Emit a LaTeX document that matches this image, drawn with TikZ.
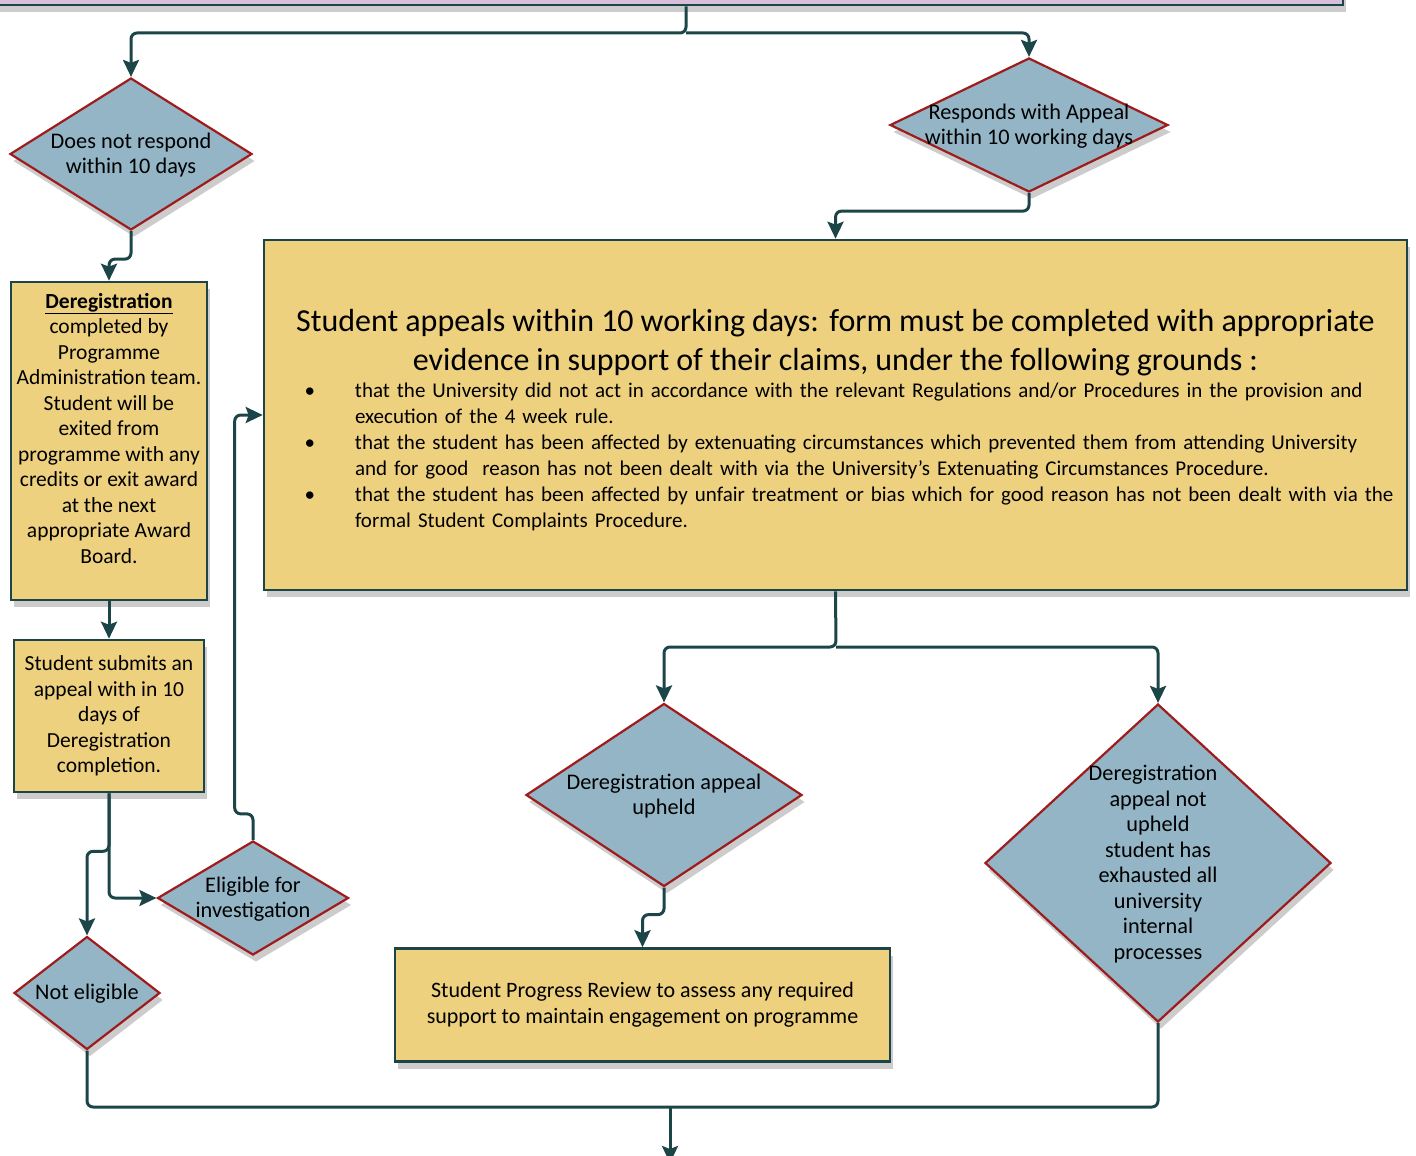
\documentclass[tikz,border=0pt]{standalone}
\usepackage{fontspec}
\setmainfont{Carlito}
\usetikzlibrary{shapes.geometric,arrows.meta,shadows}

\definecolor{boxline}{HTML}{1C4548}
\definecolor{dmdfill}{HTML}{93B5C6}
\definecolor{dmdline}{HTML}{9E1C1C}
\definecolor{boxfill}{HTML}{EDD17F}
\definecolor{topfill}{HTML}{D8BED8}

% text inside a diamond, kept out of the shape size
\newcommand{\dtxt}[1]{\smash{\makebox[0pt]{\raisebox{-7pt}{\begin{tabular}{@{}c@{}}#1\end{tabular}}}}}
% one bullet of the appeal grounds
\newcommand{\bitem}[1]{\par\hangindent=84.5pt\hangafter=1\noindent\makebox[84.5pt][l]{\hspace{34pt}\textbullet}#1\par}

\tikzset{
  dmd/.style={diamond, draw=dmdline, line width=2.2pt, fill=dmdfill, inner sep=0pt,
    font=\fontsize{22.3}{25.5}\selectfont,
    drop shadow={shadow xshift=3pt, shadow yshift=-7pt, opacity=0.4}},
  ybox/.style={rectangle, draw=boxline, line width=2.6pt, fill=boxfill, inner sep=3pt, align=center,
    font=\fontsize{21.5}{25.5}\selectfont,
    drop shadow={shadow xshift=3pt, shadow yshift=-7pt, opacity=0.4}},
  conn/.style={draw=boxline, line width=3pt, rounded corners=6pt,
    -{Stealth[length=17pt,width=16pt,inset=3pt]}},
  connline/.style={draw=boxline, line width=3pt, rounded corners=6pt}
}

\begin{document}
\begin{tikzpicture}[x=1pt,y=-1pt]
\useasboundingbox (0,0) rectangle (1416,1156);

% Top box (cut off by the page)
\node[ybox, fill=topfill, minimum width=1363pt, minimum height=65pt] (top) at (661.5,-27.5) {};

% Decisions
\foreach \n/\x/\y/\w/\h/\t in {
  dnr/131/154/242/152/{Does not respond\\within 10 days},
  resp/1029/125/278/134/{Responds with Appeal\\within 10 working days},
  elig/253/898/191/114/{Eligible for\\investigation},
  notel/87/993/146/113/{Not eligible},
  upheld/664/795/276/183/{Deregistration appeal\\upheld},
  notup/1158/863/346/318/{\hspace*{-10pt}Deregistration\\appeal not\\upheld\\student has\\exhausted all\\university\\internal\\processes}} {
  \node[dmd, minimum width=\w pt, minimum height=\h pt] (\n) at (\x,\y) {\dtxt{\t}};
}

% Boxes
\node[ybox, minimum width=196pt, minimum height=318pt] (dereg) at (109,441)
  {\underline{\textbf{Deregistration}}\\completed by\\Programme\\Administration team.\\Student will be\\exited from\\programme with any\\credits or exit award\\at the next\\appropriate Award\\Board.\\ \mbox{}};
\node[ybox, minimum width=190pt, minimum height=152pt] (submit) at (109,716)
  {Student submits an\\appeal with in 10\\days of\\Deregistration\\completion.};
\node[ybox, minimum width=495pt, minimum height=113pt, font=\fontsize{22}{26}\selectfont] (review) at (642.5,1005)
  {Student Progress Review to assess any required\\support to maintain engagement on programme};
\node[ybox, minimum width=1143pt, minimum height=350pt, text width=1130pt, align=left,
  font=\fontsize{21}{26}\selectfont] (appeal) at (835.5,415)
  {{\centering\fontsize{32}{39}\selectfont\rule{0pt}{33pt}Student appeals within 10 working days: form must be completed with appropriate\\evidence in support of their claims, under the following grounds :\par}
  \vspace{1pt}
  \bitem{that the University did not act in accordance with the relevant Regulations and/or Procedures in the provision and\newline execution of the 4 week rule.}
  \bitem{that the student has been affected by extenuating circumstances which prevented them from attending University\newline and for good\ \ reason has not been dealt with via the University’s Extenuating Circumstances Procedure.}
  \bitem{that the student has been affected by unfair treatment or bias which for good reason has not been dealt with via the\newline formal Student Complaints Procedure.}};

% Connectors
\coordinate (tsplit) at (686,33);
\coordinate (asplit) at (836,647);
\coordinate (bjoin) at (670,1107);
\coordinate (exitpt) at (670,1163);

\draw[conn] (tsplit |- top.south) -- (tsplit) -| (dnr.north);
\draw[conn] (tsplit) -| (resp.north);
\draw[conn] (resp.south) -- ++(0,18) -| (appeal.north);
\draw[conn] (dnr.south) -- ++(0,28) -| (dereg.north);
\draw[conn] (dereg.south) -- (submit.north);
\draw[conn] (submit.south) -- ++(0,58) -| (notel.north);
\draw[conn] (submit.south) |- (elig.west);
\draw[conn] (elig.north) -- ++(0,-26) -| ([xshift=-28pt]appeal.west) -- (appeal.west);
\draw[conn] (appeal.south) -- (asplit) -| (upheld.north);
\draw[conn] (asplit) -| (notup.north);
\draw[conn] (upheld.south) -- ++(0,27) -| (review.north);
\draw[connline] (notel.south) |- (notup.south |- bjoin) -- (notup.south);
\draw[conn] (bjoin) -- (exitpt);

\end{tikzpicture}
\end{document}
